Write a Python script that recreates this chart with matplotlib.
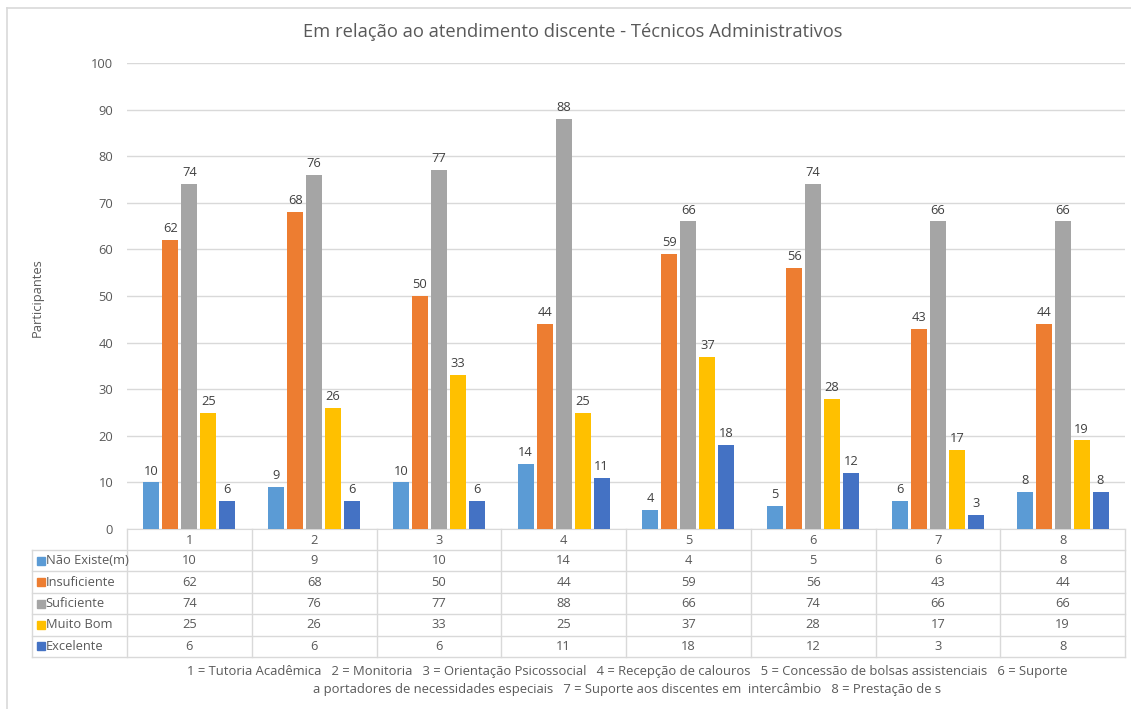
import matplotlib
matplotlib.use("Agg")
import matplotlib.pyplot as plt
from matplotlib.patches import Rectangle
from matplotlib.lines import Line2D
import numpy as np

plt.rcParams['font.family'] = ['Open Sans', 'DejaVu Sans']

categories = ["1", "2", "3", "4", "5", "6", "7", "8"]
series_names = ["Não Existe(m)", "Insuficiente", "Suficiente", "Muito Bom", "Excelente"]
nao_existe = [10, 9, 10, 14, 4, 5, 6, 8]
insuficiente = [62, 68, 50, 44, 59, 56, 43, 44]
suficiente = [74, 76, 77, 88, 66, 74, 66, 66]
muito_bom = [25, 26, 33, 25, 37, 28, 17, 19]
excelente = [6, 6, 6, 11, 18, 12, 3, 8]
series_values = [nao_existe, insuficiente, suficiente, muito_bom, excelente]
colors = ["#5B9BD5", "#ED7D31", "#A5A5A5", "#FFC000", "#4472C4"]

title = "Em relação ao atendimento discente - Técnicos Administrativos"
ylabel = "Participantes"
footer = ("1 = Tutoria Acadêmica   2 = Monitoria   3 = Orientação Psicossocial   4 = Recepção de calouros   "
          "5 = Concessão de bolsas assistenciais   6 = Suporte\n"
          "a portadores de necessidades especiais   7 = Suporte aos discentes em  intercâmbio   8 = Prestação de s")

W, H = 1131, 709
fig = plt.figure(figsize=(W / 100, H / 100), dpi=100)

def fx(px):
    return px / W

def fy(py):
    return 1 - py / H

grid_c = "#D9D9D9"
text_c = "#595959"
label_c = "#404040"
fs = 9.3

# outer border (top and left edges visible)
fig.add_artist(Line2D([fx(7), 1.0], [fy(8), fy(8)], transform=fig.transFigure, color=grid_c, lw=1.2))
fig.add_artist(Line2D([fx(7), fx(7)], [fy(8), 0.0], transform=fig.transFigure, color=grid_c, lw=1.2))

# main axes
left_px, right_px, top_px, bot_px = 127, 1125, 63, 529
ax = fig.add_axes([fx(left_px), fy(bot_px), fx(right_px - left_px), (bot_px - top_px) / H])
n = len(categories)
x = np.arange(n)
bw = 0.128
step = 0.152
for i, (name, vals, c) in enumerate(zip(series_names, series_values, colors)):
    pos = x + (i - 2) * step
    bars = ax.bar(pos, vals, width=bw, color=c, zorder=3, label=name)
    for b, v in zip(bars, vals):
        ax.annotate(str(v), (b.get_x() + b.get_width() / 2, v), xytext=(0, 3.5),
                    textcoords="offset points", ha="center", va="bottom",
                    fontsize=fs, color=label_c)
ax.set_xlim(-0.5, n - 0.5)
ax.set_ylim(0, 100)
ax.set_yticks(range(0, 101, 10))
ax.yaxis.grid(True, color=grid_c, linewidth=1.0, zorder=0)
ax.set_xticks([])
for s in ["top", "right", "left"]:
    ax.spines[s].set_visible(False)
ax.spines["bottom"].set_color(grid_c)
ax.tick_params(axis="y", length=0, labelsize=fs, labelcolor=text_c, pad=10)

fig.text(fx(37), fy(298), ylabel, rotation=90, ha="center", va="center", fontsize=fs, color=text_c)
fig.text(fx(573), fy(32), title, ha="center", va="center", fontsize=13.2, color=text_c)

# data table
tab_left_px, tab_top_px, tab_bot_px = 32, 529, 657
cat_w = (right_px - left_px) / n
label_w = (left_px - tab_left_px) / cat_w
tax = fig.add_axes([fx(tab_left_px), fy(tab_bot_px), fx(right_px - tab_left_px), (tab_bot_px - tab_top_px) / H])
tax.set_xlim(-0.5 - label_w, n - 0.5)
row_h = [21] + [21.4] * 5
edges = np.concatenate([[0], np.cumsum(row_h)])
tax.set_ylim(edges[-1], 0)
tax.axis("off")
lw = 1.0
for e in edges[1:]:
    tax.plot([-0.5 - label_w, n - 0.5], [e, e], color=grid_c, lw=lw, clip_on=False)
for k in range(n + 1):
    tax.plot([k - 0.5, k - 0.5], [0, edges[-1]], color=grid_c, lw=lw, clip_on=False)
tax.plot([-0.5 - label_w, -0.5 - label_w], [edges[1], edges[-1]], color=grid_c, lw=lw, clip_on=False)
for k, c in enumerate(categories):
    tax.text(k, (edges[0] + edges[1]) / 2 + 0.8, c, ha="center", va="center", fontsize=fs, color=text_c)
for r, (name, vals, col) in enumerate(zip(series_names, series_values, colors)):
    yc = (edges[r + 1] + edges[r + 2]) / 2
    tax.add_patch(Rectangle((-0.5 - label_w + 0.04, yc - 4), 0.064, 8, color=col, clip_on=False))
    tax.text(-0.5 - label_w + 0.11, yc, name, ha="left", va="center", fontsize=fs, color=text_c)
    for k, v in enumerate(vals):
        tax.text(k, yc, str(v), ha="center", va="center", fontsize=fs, color=text_c)

fig.text(fx(627), fy(680), footer, ha="center", va="center", fontsize=9.35, color=text_c,
         linespacing=1.5)

fig.savefig("out.png", dpi=100, facecolor="white")
